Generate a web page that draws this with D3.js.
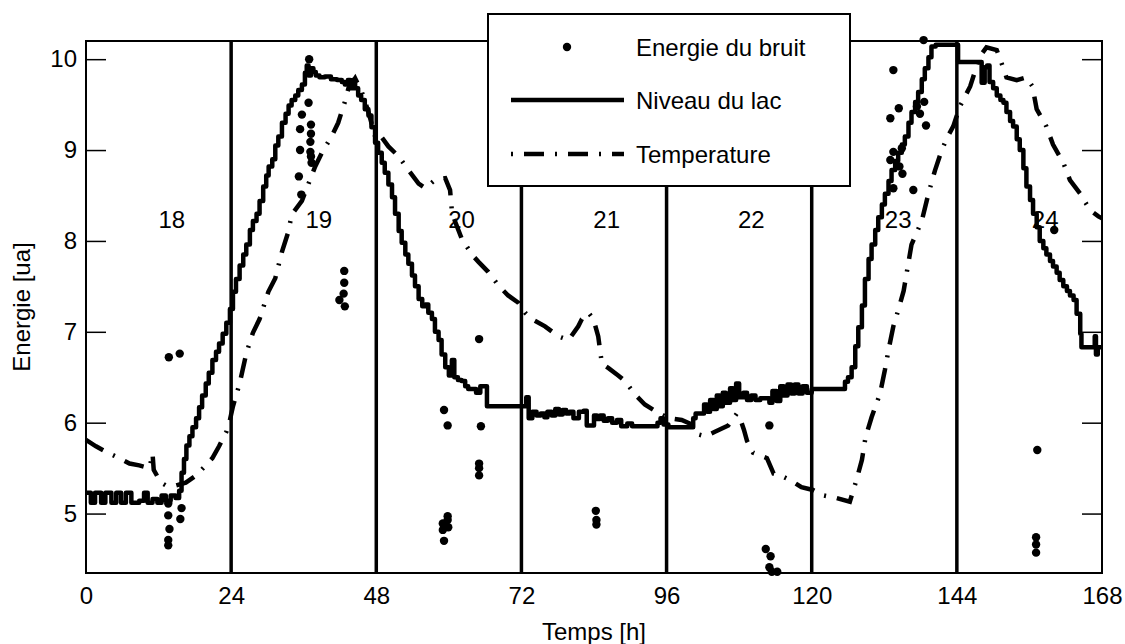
<!DOCTYPE html>
<html>
<head>
<meta charset="utf-8">
<script src="https://cdn.jsdelivr.net/npm/d3@7"></script>
<style>
  html, body { margin: 0; padding: 0; background: #fff; }
  svg text { font-family: "Liberation Sans", Arial, sans-serif; fill: #000; }
</style>
</head>
<body>
<svg id="chart" width="1125" height="644"></svg>
<script>
// ---------- DATA ----------
const xTicks = [0, 24, 48, 72, 96, 120, 144, 168];
const yTicks = [5, 6, 7, 8, 9, 10];
const dayBoundaries = [24, 48, 72, 96, 120, 144];
const dayLabels = ["18", "19", "20", "21", "22", "23", "24"];
const dayLabelHours = [14.2, 38.5, 62.1, 86.1, 110.0, 134.3, 158.6];
const legendLabels = ["Energie du bruit", "Niveau du lac", "Temperature"];

// Niveau du lac [h, value] (stepped)
const niveauLac = [
  [0,5.23],[0.8,5.12],[1.5,5.23],[2.5,5.12],[3.2,5.23],[4.2,5.12],[5.0,5.23],[5.8,5.12],
  [6.6,5.23],[7.5,5.12],[8.8,5.14],[9.6,5.23],[10.2,5.12],[11.0,5.16],[11.8,5.12],[12.5,5.2],
  [13.2,5.14],[14.0,5.2],[14.8,5.17],[15.4,5.25],[15.8,5.45],[16.2,5.6],[16.6,5.75],[17.1,5.85],
  [17.6,5.95],[18.2,6.05],[18.7,6.17],[19.2,6.3],[19.8,6.43],[20.3,6.55],[20.9,6.69],[21.5,6.78],
  [22.0,6.87],[22.6,6.98],[23.2,7.1],[23.8,7.25],[24.3,7.44],[24.8,7.58],[25.4,7.73],[26.0,7.85],
  [26.5,7.96],[27.1,8.12],[27.6,8.22],[28.2,8.3],[28.7,8.44],[29.3,8.6],[29.8,8.72],[30.2,8.82],
  [30.8,8.9],[31.3,9.05],[31.8,9.15],[32.4,9.3],[33.0,9.4],[33.5,9.49],[34.0,9.55],[34.6,9.6],
  [35.1,9.66],[35.7,9.72],[36.2,9.85],[36.5,9.93],[36.8,9.82],[37.2,9.9],[37.6,9.86],[38.0,9.82],
  [38.6,9.8],[39.5,9.81],[40.5,9.78],[41.5,9.77],[42.3,9.75],[42.8,9.72],[43.3,9.77],[43.7,9.68],
  [44.1,9.77],[44.5,9.68],[45.0,9.6],[45.5,9.55],[46.1,9.45],[46.7,9.38],[47.2,9.25],[47.8,9.08],
  [48.3,8.97],[48.9,8.86],[49.4,8.75],[50.0,8.62],[50.6,8.48],[51.1,8.3],[51.7,8.11],[52.2,7.98],
  [52.8,7.85],[53.3,7.75],[53.9,7.62],[54.4,7.5],[55.0,7.36],[55.6,7.28],[56.1,7.3],[56.6,7.21],
  [57.2,7.14],[57.7,7.0],[58.3,6.91],[58.8,6.75],[59.4,6.61],[60.0,6.52],[60.5,6.69],[60.9,6.5],
  [61.5,6.47],[62.1,6.46],[62.7,6.4],[63.2,6.37],[64.5,6.33],[65.2,6.4],[66.3,6.18],[72.6,6.18],
  [72.8,6.28],[73.2,6.05],[73.8,6.12],[74.5,6.08],[75.2,6.1],[75.8,6.06],[76.3,6.12],[77.0,6.08],
  [77.6,6.15],[78.2,6.09],[78.8,6.14],[79.4,6.1],[80.0,6.12],[80.6,6.05],[81.5,6.12],[82.3,6.13],
  [82.8,5.97],[84.0,6.08],[84.5,6.04],[85.0,6.08],[85.6,6.02],[86.3,6.05],[87.0,6.0],[87.8,6.03],
  [88.5,5.96],[89.5,5.99],[90.3,5.96],[94.5,6.0],[95.0,6.05],[95.5,5.98],[96.3,5.95],[100.2,5.95],
  [100.4,6.05],[100.8,6.1],[102.2,6.2],[102.7,6.12],[103.2,6.25],[103.8,6.15],[104.3,6.3],[104.8,6.18],
  [105.3,6.33],[105.8,6.22],[106.5,6.38],[107.0,6.25],[107.5,6.43],[108.0,6.28],[108.7,6.33],[109.3,6.25],
  [110.0,6.3],[110.7,6.25],[111.5,6.27],[113.0,6.22],[113.5,6.35],[114.2,6.24],[114.8,6.4],[115.4,6.3],
  [116.0,6.42],[116.6,6.32],[117.2,6.42],[117.8,6.32],[118.5,6.4],[119.2,6.33],[120.0,6.37],[125.2,6.37],
  [125.5,6.45],[126.0,6.5],[126.6,6.61],[127.2,6.84],[127.7,7.05],[128.3,7.29],[128.8,7.58],[129.4,7.8],
  [129.9,7.96],[130.5,8.12],[131.0,8.26],[131.6,8.4],[132.1,8.52],[132.7,8.66],[133.2,8.78],[133.8,8.88],
  [134.3,8.97],[134.9,9.06],[135.4,9.15],[136.0,9.3],[136.5,9.42],[137.1,9.53],[137.6,9.64],[138.2,9.78],
  [138.7,9.9],[139.3,10.02],[139.8,10.14],[140.5,10.16],[144.0,10.16],[144.2,9.97],[147.8,9.97],[148.1,9.74],
  [148.6,9.91],[149.0,9.93],[149.4,9.75],[150.0,9.68],[150.6,9.6],[151.2,9.55],[151.7,9.52],[152.2,9.42],
  [152.8,9.32],[153.3,9.26],[153.9,9.12],[154.4,9.0],[155.0,8.8],[155.5,8.6],[156.1,8.45],[156.6,8.3],
  [157.2,8.15],[157.7,8.0],[158.3,7.92],[158.8,7.85],[159.4,7.78],[159.9,7.72],[160.5,7.65],[161.0,7.57],
  [161.6,7.5],[162.2,7.45],[162.7,7.4],[163.3,7.35],[163.8,7.2],[164.4,6.98],[164.6,6.83],[166.5,6.83],
  [166.8,6.95],[167.0,6.75],[167.3,6.83],[168.0,6.83]
];

// Temperature [h, value]
const temperature = [
  [0,5.81],[1.65,5.74],[3.3,5.68],[5.5,5.61],[7.2,5.55],[8.8,5.53],[10.5,5.5],[11.0,5.66],[11.2,5.48],
  [12.4,5.34],[13.2,5.31],[14.9,5.31],[16.5,5.34],[18.2,5.42],[19.8,5.53],[20.9,5.61],[22.0,5.74],
  [23.2,5.9],[23.7,6.0],[24.3,6.18],[25.4,6.43],[26.5,6.76],[27.6,6.99],[28.7,7.14],[30.15,7.44],
  [31.3,7.59],[32.4,7.88],[33.5,8.11],[34.0,8.29],[35.7,8.44],[36.8,8.63],[37.9,8.82],[39.0,8.97],
  [40.6,9.15],[41.7,9.3],[42.8,9.53],[43.4,9.68],[44.5,9.79],[45.6,9.64],[46.7,9.42],[47.8,9.15],
  [48.3,9.1],[48.9,9.14],[50.0,9.04],[51.7,8.93],[53.3,8.78],[55.0,8.63],[56.1,8.58],[57.7,8.67],
  [59.4,8.69],[60.2,8.56],[60.5,8.33],[61.0,8.22],[62.1,8.03],[63.8,7.85],[64.9,7.77],[66.5,7.66],
  [68.2,7.51],[69.8,7.4],[71.5,7.32],[72.6,7.21],[73.7,7.14],[75.9,7.06],[78.1,6.95],[79.8,6.91],
  [81.4,7.06],[82.0,7.14],[83.1,7.21],[83.9,7.14],[84.7,6.95],[85.3,6.65],[86.4,6.6],[88.0,6.52],
  [89.1,6.46],[90.8,6.31],[92.4,6.2],[94.1,6.13],[95.2,6.09],[96.3,6.05],[98.5,6.03],[100.2,5.98],
  [101.3,5.87],[102.4,5.85],[104.0,5.9],[106.2,5.97],[107.6,6.1],[108.3,6.02],[108.8,5.92],[109.3,5.8],
  [110.3,5.67],[112.6,5.61],[113.7,5.44],[114.8,5.42],[116.4,5.37],[118.3,5.29],[120.2,5.26],[121.9,5.2],
  [124.1,5.17],[126.3,5.13],[127.4,5.37],[128.3,5.59],[128.9,5.84],[129.9,6.06],[131.3,6.32],[132.1,6.58],
  [132.7,6.8],[133.5,7.06],[134.4,7.26],[135.2,7.45],[136.5,7.96],[138.2,8.22],[139.3,8.52],[140.4,8.78],
  [141.5,9.0],[142.5,9.15],[143.4,9.26],[144.5,9.48],[146.2,9.7],[147.8,10.03],[148.9,10.13],[150.6,10.1],
  [151.7,9.9],[152.2,9.8],[153.9,9.77],[155.5,9.8],[156.5,9.7],[157.2,9.45],[158.8,9.26],[159.9,9.06],
  [161.6,8.86],[162.7,8.67],[164.4,8.52],[166.0,8.34],[167.4,8.27],[168.0,8.25]
];

// Energie du bruit [h, value]
const energieBruit = [
  [13.7,6.72],[15.5,6.76],[13.6,5.11],[13.6,4.98],[13.8,4.83],[13.6,4.71],[13.6,4.65],[15.8,5.06],[15.6,4.94],
  [36.9,10.0],[36.8,9.52],[35.7,9.39],[35.4,9.23],[37.2,9.28],[37.2,9.18],[37.1,9.09],[35.4,9.0],[37.1,8.98],
  [37.2,8.93],[37.3,8.86],[35.2,8.71],[35.6,8.51],
  [42.7,7.67],[42.7,7.54],[42.6,7.42],[41.9,7.35],[42.8,7.28],
  [65.0,6.92],[59.2,6.14],[59.8,5.97],[65.3,5.96],[65.0,5.55],[65.0,5.5],[65.0,5.42],
  [59.8,4.97],[59.8,4.93],[59.0,4.89],[59.9,4.85],[59.0,4.82],[59.2,4.70],
  [84.3,5.03],[84.4,4.93],[84.4,4.88],
  [113.0,5.97],[112.4,4.61],[113.2,4.53],[113.0,4.41],[113.4,4.36],[114.3,4.36],
  [138.5,10.21],[133.5,9.88],[134.4,9.46],[133.0,9.35],[138.6,9.53],[137.9,9.40],[138.9,9.27],[137.4,9.48],
  [133.5,8.98],[134.9,9.02],[133.0,8.89],[134.5,8.82],[135.0,8.74],[133.5,8.58],[136.8,8.56],
  [160.1,8.12],[157.3,5.70],[157.1,4.74],[157.1,4.66],[157.1,4.57]
];

// ---------- CHART ----------
const W = 1125, H = 644;
const m = { left: 86, right: 1102, top: 41, bottom: 573 };
const FONT = 24;

const svg = d3.select("#chart");
svg.append("rect").attr("width", W).attr("height", H).attr("fill", "#fff");

const x = d3.scaleLinear().domain([0, 168]).range([m.left, m.right]);
const y = d3.scaleLinear().domain([4.346, 10.2]).range([m.bottom, m.top]);

// day separators
svg.append("g").selectAll("line").data(dayBoundaries).join("line")
  .attr("x1", d => x(d)).attr("x2", d => x(d))
  .attr("y1", m.top).attr("y2", m.bottom)
  .attr("stroke", "#000").attr("stroke-width", 3.5);

// axes
const yLeft = svg.append("g").attr("transform", `translate(${m.left},0)`)
  .call(d3.axisLeft(y).tickValues(yTicks).tickSize(-20).tickPadding(9).tickFormat(d3.format("d")));
const yRight = svg.append("g").attr("transform", `translate(${m.right},0)`)
  .call(d3.axisRight(y).tickValues(yTicks).tickSize(-20).tickFormat(""));
const xBottom = svg.append("g").attr("transform", `translate(0,${m.bottom})`)
  .call(d3.axisBottom(x).tickValues(xTicks).tickSize(0).tickPadding(14).tickFormat(d3.format("d")));
[yLeft, yRight, xBottom].forEach(g => {
  g.select(".domain").remove();
  g.selectAll("line").attr("stroke", "#000").attr("stroke-width", 1.5);
  g.selectAll("text").attr("font-size", FONT).attr("font-family", '"Liberation Sans", Arial, sans-serif').attr("fill", "#000");
});

// frame
svg.append("rect").attr("x", m.left).attr("y", m.top)
  .attr("width", m.right - m.left).attr("height", m.bottom - m.top)
  .attr("fill", "none").attr("stroke", "#000").attr("stroke-width", 2);

// day labels
svg.append("g").selectAll("text").data(dayLabels).join("text")
  .attr("x", (d, i) => x(dayLabelHours[i])).attr("y", 228)
  .attr("text-anchor", "middle").attr("font-size", FONT).text(d => d);

// temperature (dash-dot)
svg.append("path").datum(temperature)
  .attr("d", d3.line().x(d => x(d[0])).y(d => y(d[1])))
  .attr("fill", "none").attr("stroke", "#000").attr("stroke-width", 4.5)
  .attr("stroke-dasharray", "20,11,2,11");

// niveau du lac (stepped solid)
svg.append("path").datum(niveauLac)
  .attr("d", d3.line().curve(d3.curveStepAfter).x(d => x(d[0])).y(d => y(d[1])))
  .attr("fill", "none").attr("stroke", "#000").attr("stroke-width", 4.5)
  .attr("stroke-linejoin", "round");

// energie du bruit (dots)
svg.append("g").selectAll("circle").data(energieBruit).join("circle")
  .attr("cx", d => x(d[0])).attr("cy", d => y(d[1])).attr("r", 4.2).attr("fill", "#000");

// axis titles
svg.append("text").attr("x", (m.left + m.right) / 2).attr("y", 640)
  .attr("text-anchor", "middle").attr("font-size", FONT).text("Temps [h]");
svg.append("text").attr("transform", `translate(30,${(m.top + m.bottom) / 2}) rotate(-90)`)
  .attr("text-anchor", "middle").attr("font-size", FONT).text("Energie [ua]");

// legend
const lg = svg.append("g");
lg.append("rect").attr("x", 488).attr("y", 14).attr("width", 362).attr("height", 172)
  .attr("fill", "#fff").attr("stroke", "#000").attr("stroke-width", 2);
const rows = [47, 100, 154];
lg.append("circle").attr("cx", 567).attr("cy", rows[0]).attr("r", 4.2).attr("fill", "#000");
lg.append("line").attr("x1", 511).attr("x2", 624).attr("y1", rows[1]).attr("y2", rows[1])
  .attr("stroke", "#000").attr("stroke-width", 4.5);
lg.append("line").attr("x1", 511).attr("x2", 624).attr("y1", rows[2]).attr("y2", rows[2])
  .attr("stroke", "#000").attr("stroke-width", 4.5).attr("stroke-dasharray", "2,11,20,11");
lg.selectAll("text").data(legendLabels).join("text")
  .attr("x", 636).attr("y", (d, i) => rows[i] + 8.5)
  .attr("font-size", FONT).text(d => d);
</script>
</body>
</html>
